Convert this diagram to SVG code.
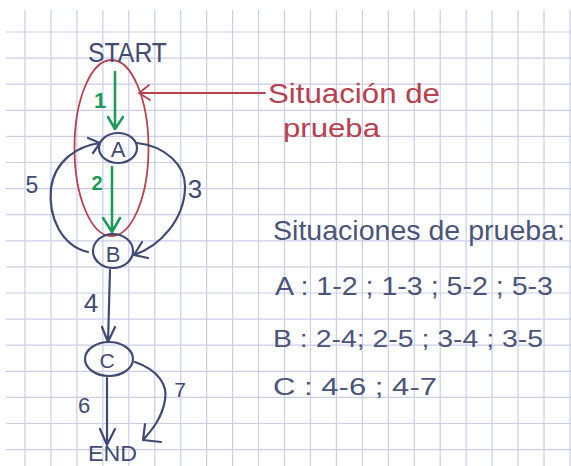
<svg xmlns="http://www.w3.org/2000/svg" width="571" height="466" viewBox="0 0 571 466">
<defs>
<style>
.grid{stroke:#cbcde9;stroke-width:1.2;fill:none}
.ink{stroke:#3f4b72;stroke-width:2.2;fill:none;stroke-linecap:round;stroke-linejoin:round}
.grn{stroke:#1f9a58;stroke-width:2.6;fill:none;stroke-linecap:round;stroke-linejoin:round}
.red{stroke:#b8404f;stroke-width:1.8;fill:none;stroke-linecap:round;stroke-linejoin:round}
.node{stroke:#3f4b72;stroke-width:2.2;fill:none}
text{font-family:"Liberation Sans",Arial,sans-serif}
.t{fill:#3f4b72}
.tg{fill:#1f9a58;font-weight:bold}
.tr{fill:#b8404f}
.tl{fill:#4a5579}
</style>
</defs>
<rect x="0" y="0" width="571" height="466" fill="#ffffff"/>
<g id="grid">
<path class="grid" d="M25 10V466M50.95 10V466M76.9 10V466M102.85 10V466M128.8 10V466M154.75 10V466M180.7 10V466M206.65 10V466M232.6 10V466M258.55 10V466M284.5 10V466M310.45 10V466M336.4 10V466M362.35 10V466M388.3 10V466M414.25 10V466M440.2 10V466M466.15 10V466M492.1 10V466M518.05 10V466M544 10V466M569.95 10V466"/>
<path class="grid" d="M6 32H571M6 58.1H571M6 84.2H571M6 110.3H571M6 136.4H571M6 162.5H571M6 188.6H571M6 214.7H571M6 240.8H571M6 266.9H571M6 293H571M6 319.1H571M6 345.2H571M6 371.3H571M6 397.4H571M6 423.5H571M6 449.6H571"/>
</g>
<g id="test-situation">
<ellipse class="red" cx="111.5" cy="148" rx="37" ry="88"/>
<path class="red" d="M265 93H140M149 85L139 93L150 100"/>
<text class="tr" x="268" y="103" font-size="28" textLength="172" lengthAdjust="spacingAndGlyphs">Situación de</text>
<text class="tr" x="283" y="137" font-size="26" textLength="97" lengthAdjust="spacingAndGlyphs">prueba</text>
</g>
<g id="connectors">
<g id="e1"><path class="grn" d="M115 72V129M108 117L115 129L123 117"/><text class="tg" x="100" y="108" font-size="22" text-anchor="middle">1</text></g>
<g id="e2"><path class="grn" d="M112 167V232M103 218L112 232L120 218"/><text class="tg" x="97" y="190" font-size="20" text-anchor="middle">2</text></g>
<g id="e5"><path class="ink" d="M88 252C62 246 48 218 51 188C55 160 78 146 100 143M88 138L100 143L93 153"/><text class="t" x="32" y="193" font-size="23" text-anchor="middle">5</text></g>
<g id="e3"><path class="ink" d="M137 143C165 146 186 165 185 188C184 220 160 246 134 255M142 242L134 255L148 258"/><text class="t" x="195" y="198" font-size="26" text-anchor="middle">3</text></g>
<g id="e4"><path class="ink" d="M110 270L108 342M102 327L108 342L115 327"/><text class="t" x="91" y="312" font-size="26" text-anchor="middle">4</text></g>
<g id="e6"><path class="ink" d="M107 378V445M100 429L107 445L115 429"/><text class="t" x="84" y="413" font-size="22" text-anchor="middle">6</text></g>
<g id="e7"><path class="ink" d="M135 362C158 370 168 385 165 400C162 418 152 430 143 440M145 424L143 440L161 442"/><text class="t" x="180" y="397" font-size="21" text-anchor="middle">7</text></g>
</g>
<g id="start"><text class="t" x="88" y="62" font-size="27" textLength="79" lengthAdjust="spacingAndGlyphs">START</text></g>
<g id="A"><ellipse class="node" cx="118" cy="148" rx="19" ry="15"/><text class="t" x="118" y="157" font-size="22" text-anchor="middle">A</text></g>
<g id="B"><ellipse class="node" cx="113" cy="251" rx="20" ry="17"/><text class="t" x="113" y="262" font-size="22" text-anchor="middle">B</text></g>
<g id="C"><ellipse class="node" cx="109" cy="359" rx="24" ry="17"/><text class="t" x="107" y="368" font-size="21" text-anchor="middle">C</text></g>
<g id="end"><text class="t" x="88" y="461" font-size="22" textLength="49" lengthAdjust="spacingAndGlyphs">END</text></g>
<g id="list">
<text class="tl" x="273" y="240" font-size="28" textLength="292" lengthAdjust="spacingAndGlyphs">Situaciones de prueba:</text>
<text class="tl" x="275" y="295" font-size="26" textLength="278" lengthAdjust="spacingAndGlyphs">A : 1-2 ; 1-3 ; 5-2 ; 5-3</text>
<text class="tl" x="273" y="347" font-size="24" textLength="270" lengthAdjust="spacingAndGlyphs">B : 2-4; 2-5 ; 3-4 ; 3-5</text>
<text class="tl" x="273" y="395" font-size="24" textLength="164" lengthAdjust="spacingAndGlyphs">C : 4-6 ; 4-7</text>
</g>
</svg>
